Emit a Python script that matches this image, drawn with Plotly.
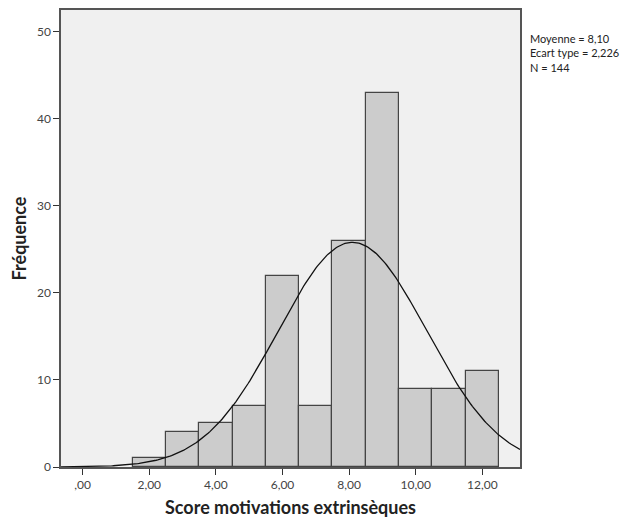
import numpy as np
import plotly.graph_objects as go

bin_centers = [2, 3, 4, 5, 6, 7, 8, 9, 10, 11, 12]
counts = [1, 4, 5, 7, 22, 7, 26, 43, 9, 9, 11]
mean_val = 8.10
sd_val = 2.226
n_val = 144
x_tick_vals = [0, 2, 4, 6, 8, 10, 12]
x_tick_text = [",00", "2,00", "4,00", "6,00", "8,00", "10,00", "12,00"]
y_tick_vals = [0, 10, 20, 30, 40, 50]
stats_lines = ["Moyenne = 8,10", "Ecart type = 2,226", "N = 144"]

fig = go.Figure()
fig.add_trace(go.Bar(
    x=bin_centers, y=counts, width=1,
    marker=dict(color="#CCCCCC", line=dict(color="#444444", width=1.2)),
    showlegend=False, hoverinfo="skip"))

xs = np.linspace(-0.65, 13.13, 300)
ys = n_val * 1.0 / (sd_val * np.sqrt(2 * np.pi)) * np.exp(-0.5 * ((xs - mean_val) / sd_val) ** 2)
fig.add_trace(go.Scatter(x=xs, y=ys, mode="lines",
                         line=dict(color="#111111", width=1.3),
                         showlegend=False, hoverinfo="skip"))

fam = "Lato, Open Sans, sans-serif"
axis_font = dict(family=fam, size=12, color="#444444")
title_font = dict(family=fam, size=18, color="#222222")

fig.update_layout(
    width=641, height=520,
    margin=dict(l=53, r=129, t=0, b=61),
    paper_bgcolor="white", plot_bgcolor="#F0F0F0",
    bargap=0,
    xaxis=dict(range=[-0.65, 13.13], tickvals=x_tick_vals, ticktext=x_tick_text,
               ticks="outside", ticklen=6, tickcolor="#333333", tickwidth=1.2,
               showgrid=False, zeroline=False, showline=True, linecolor="#555555",
               linewidth=1.5, mirror=True, tickfont=axis_font,
               title=dict(text="<b>Score motivations extrinsèques</b>",
                          font=title_font, standoff=10)),
    yaxis=dict(range=[0, 52.5], tickvals=y_tick_vals,
               ticks="outside", ticklen=6, tickcolor="#333333", tickwidth=1.2,
               showgrid=False, zeroline=False, showline=True, linecolor="#555555",
               linewidth=1.5, mirror=True, tickfont=axis_font,
               title=dict(text="<b>Fréquence</b>", font=title_font, standoff=8)),
    annotations=[dict(
        xref="paper", yref="paper", x=1.017, y=0.956,
        xanchor="left", yanchor="top", align="left", showarrow=False,
        text="<br>".join(stats_lines),
        font=dict(family=fam, size=11, color="#222222"))],
)
fig.write_html("out.html")
